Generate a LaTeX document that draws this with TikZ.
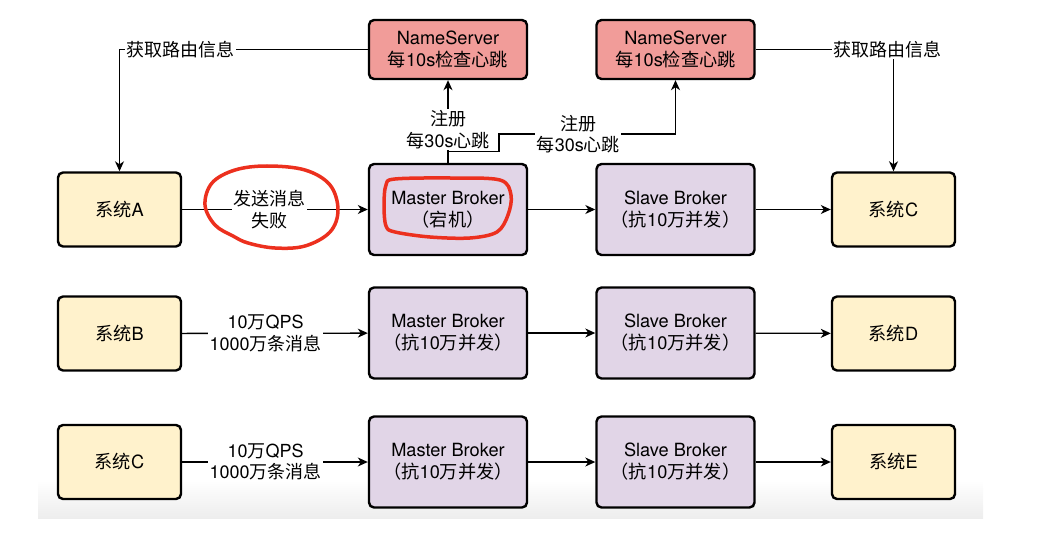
\documentclass[tikz,border=0pt]{standalone}
\usepackage{fontspec}
\setmainfont{TeX Gyre Heros}
\newfontfamily\cjk{Noto Sans CJK SC}
\usepackage{xcolor}
\usetikzlibrary{arrows.meta}

\definecolor{nsred}{HTML}{F19C99}
\definecolor{brokerpurple}{HTML}{E1D5E7}
\definecolor{sysyellow}{HTML}{FFF2CC}
\definecolor{markred}{RGB}{236,48,30}

\newcommand{\zh}[1]{{\cjk #1}}

\begin{document}
\begin{tikzpicture}[
  x=1pt, y=-1pt, % pixel grid, y pointing down
  >={Stealth[length=10pt,width=9pt,inset=3pt]}, % arrow head style
  line width=1.3pt, % line style
  font=\fontsize{18.2}{22}\selectfont
  ]

  \tikzstyle{box}=[
    draw = black,
    line width = 2.4pt,
    rounded corners = 5pt,
    align = center,
    inner sep = 0pt
  ]
  \tikzstyle{sys}=[box, fill=sysyellow, minimum width=123pt, minimum height=74pt]
  \tikzstyle{broker}=[box, fill=brokerpurple, minimum width=158pt, minimum height=91pt]
  \tikzstyle{ns}=[box, fill=nsred, minimum width=158pt, minimum height=59pt]
  \tikzstyle{lbl}=[fill=white, inner sep=1.5pt, align=center, font=\fontsize{18}{21.5}\selectfont]

\useasboundingbox (0,0) rectangle (1038,540);
\shade[top color=white, bottom color=black!7] (38,480) rectangle (983,518);

% name servers
\node[ns] (ns1) at (448,49.5) {NameServer\\\zh{每}10s\zh{检查心跳}};
\node[ns] (ns2) at (675.5,49.5) {NameServer\\\zh{每}10s\zh{检查心跳}};

% first row
\node[sys] (sysA) at (119.5,209.5) {\zh{系统}A};
\node[broker] (mb1) at (448,209.5) {Master Broker\\\zh{（宕机）}};
\node[broker] (sb1) at (675.5,209.5) {Slave Broker\\\zh{（抗}10\zh{万并发）}};
\node[sys] (sysC1) at (893.5,209.5) {\zh{系统}C};

% second row
\node[sys] (sysB) at (119.5,333.5) {\zh{系统}B};
\node[broker] (mb2) at (448,333) {Master Broker\\\zh{（抗}10\zh{万并发）}};
\node[broker] (sb2) at (675.5,333) {Slave Broker\\\zh{（抗}10\zh{万并发）}};
\node[sys] (sysD) at (893.5,333.5) {\zh{系统}D};

% third row
\node[sys] (sysC2) at (119.5,462) {\zh{系统}C};
\node[broker] (mb3) at (448,462) {Master Broker\\\zh{（抗}10\zh{万并发）}};
\node[broker] (sb3) at (675.5,462) {Slave Broker\\\zh{（抗}10\zh{万并发）}};
\node[sys] (sysE) at (893.5,462) {\zh{系统}E};

\coordinate (regbend) at (499,134);

% routing info
\draw[->] (ns1.west) -| node[lbl,pos=0.377] {\zh{获取路由信息}} (sysA.north);
\draw[->] (ns2.east) -| node[lbl,pos=0.48] {\zh{获取路由信息}} (sysC1.north);

% register + heartbeat
\draw[->] (mb1.north) -- node[lbl,pos=0.4] {\zh{注册}\\\zh{每}30s\zh{心跳}} (ns1.south);
\draw[->] (mb1.north) -- ++(0,-11) -| (regbend) -| node[lbl,pos=0.225] {\zh{注册}\\\zh{每}30s\zh{心跳}} (ns2.south);

% message flow
\path [->] (sysA) edge node[lbl,pos=0.47] {\zh{发送消息}\\\zh{失败}} (mb1);
\path [->] (mb1) edge (sb1);
\path [->] (sb1) edge (sysC1);
\path [->] (sysB) edge node[lbl,pos=0.45] {10\zh{万}QPS\\1000\zh{万条消息}} (mb2);
\path [->] (mb2) edge (sb2);
\path [->] (sb2) edge (sysD);
\path [->] (sysC2) edge node[lbl,pos=0.45] {10\zh{万}QPS\\1000\zh{万条消息}} (mb3);
\path [->] (mb3) edge (sb3);
\path [->] (sb3) edge (sysE);

% red marks
\draw[markred, line width=3.5pt, line join=round] plot[smooth cycle, tension=0.6] coordinates {
  (267,166) (305,170) (330,185) (338,210) (330,232) (305,246) (275,248)
  (248,243) (233,236) (215,225) (205,205) (212,183) (235,170)};
\draw[markred, line width=3.5pt, line join=round] plot[smooth cycle, tension=0.55] coordinates {
  (395,179) (450,178) (500,180) (511,195) (508,215) (497,232) (470,238)
  (430,237) (395,232) (386,226) (384,205) (386,185)};
\end{tikzpicture}
\end{document}
